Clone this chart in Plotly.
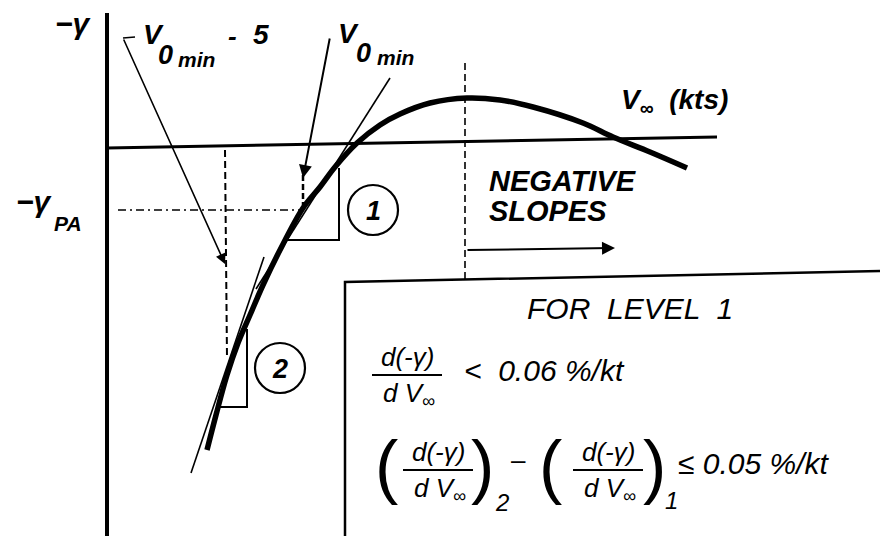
import plotly.graph_objects as go

# ---- diagram data (diagram units, y grows downward) ----
curve_x = [207, 216, 227, 238, 250, 263, 280, 303, 320, 335, 357, 380, 400, 430, 467, 500, 533, 583, 613, 650, 687]
curve_y = [450, 415, 375, 343, 315, 285, 250, 208, 187, 167, 143, 125, 114, 103, 98, 100, 107, 123, 137, 152, 168]

gamma_axis_x = [107, 107]
gamma_axis_y = [13, 536]
v_axis_x = [107, 717]
v_axis_y = [148, 137]

tangent1_x = [390, 256]
tangent1_y = [78, 289]
tangent2_x = [264, 191]
tangent2_y = [257, 473]

tri1_x = [285, 339, 339]
tri1_y = [240, 240, 168]
tri2_x = [220, 247, 247]
tri2_y = [407, 407, 329]

v0min5_dash_x = [225, 227]
v0min5_dash_y = [150, 358]
gpa_dash_x = [118, 300]
gpa_dash_y = [210, 210]
v0min_dash_x = [303, 303]
v0min_dash_y = [175, 205]
peak_dash_x = [465, 465]
peak_dash_y = [63, 280]

box_x = [880, 345, 345]
box_y = [271, 282, 536]

LINE = "black"
FONT = "Liberation Sans, Arial, sans-serif"

fig = go.Figure()


def line(xs, ys, width=2, dash="solid", shape="linear"):
    fig.add_trace(go.Scatter(x=xs, y=ys, mode="lines",
                             line=dict(color=LINE, width=width, dash=dash, shape=shape),
                             hoverinfo="skip", showlegend=False))


line(gamma_axis_x, gamma_axis_y, width=4)
line(v_axis_x, v_axis_y, width=3)
line(box_x, box_y, width=2.5)
line(peak_dash_x, peak_dash_y, width=1.6, dash="7px,4px")
line(v0min5_dash_x, v0min5_dash_y, width=2, dash="7px,4px")
line(gpa_dash_x, gpa_dash_y, width=1.6, dash="8px,4px,2px,4px")
line(v0min_dash_x, v0min_dash_y, width=2.5, dash="6px,3px")
line(tri1_x, tri1_y, width=2)
line(tri2_x, tri2_y, width=2)
line(tangent1_x, tangent1_y, width=1.6)
line(tangent2_x, tangent2_y, width=1.6)
line(curve_x, curve_y, width=5.5, shape="spline")

# circles around 1 and 2
for cx, cy in [(373, 210), (280, 368)]:
    fig.add_shape(type="circle", xref="x", yref="y",
                  x0=cx - 25, x1=cx + 25, y0=cy - 25, y1=cy + 25,
                  line=dict(color=LINE, width=2.2))


def text(x, y, s, size=28, xanchor="center", yanchor="middle"):
    fig.add_annotation(x=x, y=y, text=s, showarrow=False, xanchor=xanchor, yanchor=yanchor,
                       font=dict(family=FONT, size=size, color="black"))


def arrow(x, y, ax, ay, width=1.6):
    fig.add_annotation(x=x, y=y, ax=ax, ay=ay, xref="x", yref="y", axref="x", ayref="y",
                       text="", showarrow=True, arrowhead=2, arrowsize=1.3,
                       arrowwidth=width, arrowcolor=LINE)


# leader arrows
line([123, 135], [38, 37], width=1.6)
arrow(225, 264, 123, 38)
arrow(303, 178, 330, 37, width=2)
arrow(615, 248, 466, 250, width=2)

# circle numbers
text(373, 211, "<i><b>1</b></i>", size=27)
text(280, 369, "<i><b>2</b></i>", size=27)

# axis labels
text(53, 23, "<b><i>−γ</i></b>", size=30, xanchor="left")
text(14, 201, "<b><i>−γ</i></b>", size=30, xanchor="left")
text(52, 223, "<b><i>PA</i></b>", size=21, xanchor="left")

# V0min - 5 label
text(141, 34, "<b><i>V</i></b>", size=28, xanchor="left")
text(156, 55, "<b><i>0</i></b>", size=27, xanchor="left")
text(176, 59, "<b><i>min</i></b>", size=21, xanchor="left")
text(226, 36, "<b><i>-</i></b>", size=26, xanchor="left")
text(251, 34, "<b><i>5</i></b>", size=28, xanchor="left")

# V0min label
text(336, 33, "<b><i>V</i></b>", size=28, xanchor="left")
text(354, 53, "<b><i>0</i></b>", size=27, xanchor="left")
text(375, 57, "<b><i>min</i></b>", size=21, xanchor="left")

# V infinity (kts)
text(619, 101, "<b><i>V<sub>∞</sub>  (kts)</i></b>", size=28, xanchor="left")

# negative slopes
text(487, 181, "<b><i>NEGATIVE</i></b>", size=29, xanchor="left")
text(487, 211, "<b><i>SLOPES</i></b>", size=29, xanchor="left")

# criteria box
text(630, 308, "<i>FOR  LEVEL  1</i>", size=30)


def frac(xc, ybar, half, size=26):
    line([xc - half, xc + half], [ybar, ybar], width=2)
    text(xc, ybar - 18, "<i>d(-γ)</i>", size=size)
    text(xc + 2, ybar + 19, "<i>d V<sub>∞</sub></i>", size=size)


frac(407, 375, 35)
text(462, 370, "<i><  0.06 %/kt</i>", size=30, xanchor="left")

text(386, 466, "(", size=70)
frac(438, 470, 35)
text(482, 466, ")", size=70)
text(502, 502, "<i>2</i>", size=24)
text(518, 460, "–", size=26)
text(550, 466, "(", size=70)
frac(608, 470, 35)
text(654, 466, ")", size=70)
text(671, 500, "<i>1</i>", size=24)
text(676, 463, "<i>≤ 0.05 %/kt</i>", size=30, xanchor="left")

fig.update_layout(
    width=887, height=536,
    margin=dict(l=0, r=0, t=0, b=0),
    paper_bgcolor="white", plot_bgcolor="white",
    xaxis=dict(range=[0, 887], visible=False, fixedrange=True),
    yaxis=dict(range=[536, 0], visible=False, fixedrange=True),
    showlegend=False,
)

fig.write_html("out.html", config={"displayModeBar": False},
               post_script="document.body.style.margin='0';")
